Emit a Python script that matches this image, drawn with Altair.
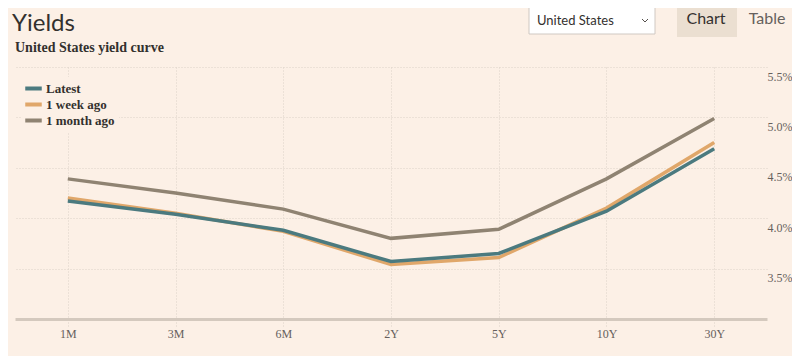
import altair as alt
import pandas as pd

tenors = ["1M", "3M", "6M", "2Y", "5Y", "10Y", "30Y"]
latest = [4.17, 4.04, 3.88, 3.57, 3.65, 4.07, 4.69]
week_ago = [4.20, 4.05, 3.87, 3.54, 3.61, 4.10, 4.75]
month_ago = [4.39, 4.25, 4.09, 3.80, 3.89, 4.39, 4.99]
series_names = ["Latest", "1 week ago", "1 month ago"]
series_colors = ["#4b7a7f", "#e0a76a", "#8f8372"]
y_ticks = [3.5, 4.0, 4.5, 5.0, 5.5]

BG = "#fcf0e6"
GRID = "#ddd3c9"
SERIF = "Liberation Serif"
SANS = "Lato"

rows = []
# draw order: month, week, latest (latest on top)
for name, vals in [("1 month ago", month_ago), ("1 week ago", week_ago), ("Latest", latest)]:
    for t, v in zip(tenors, vals):
        rows.append({"tenor": t, "yield": v, "series": name})
df = pd.DataFrame(rows)

x_enc = alt.X(
    "tenor:N",
    sort=tenors,
    scale=alt.Scale(type="point", padding=0.49),
    axis=alt.Axis(
        title=None, labelAngle=0, grid=True, gridColor=GRID, gridDash=[1, 2],
        domain=True, domainColor="#d4c9be", domainWidth=3,
        ticks=True, tickSize=8, tickColor=GRID, tickDash=[1, 2],
        labelFont=SERIF, labelFontSize=12, labelColor="#66605c", labelPadding=1,
    ),
)
y_enc = alt.Y(
    "yield:Q",
    scale=alt.Scale(domain=[3.0, 5.5], nice=False, zero=False),
    axis=alt.Axis(
        title=None, orient="right", values=y_ticks, grid=True, gridColor=GRID,
        gridDash=[1, 2], domain=False, ticks=False,
        labelExpr="format(datum.value, '.1f') + '%'",
        labelFont=SERIF, labelFontSize=12, labelColor="#66605c",
        labelPadding=0, labelAlign="left", labelBaseline="top", labelOffset=4,
    ),
)

lines = alt.Chart(df).mark_line(strokeWidth=3.5, strokeCap="butt").encode(
    x=x_enc,
    y=y_enc,
    color=alt.Color(
        "series:N",
        scale=alt.Scale(domain=series_names, range=series_colors),
        legend=alt.Legend(
            title=None, orient="none", legendX=7, legendY=10,
            symbolType="M-1.5,0L1.5,0", symbolStrokeWidth=4, symbolSize=121,
            labelFont=SERIF, labelFontSize=13, labelFontWeight="bold",
            labelColor="#33302e", rowPadding=-6, fillColor=BG, padding=4,
            labelOffset=5,
        ),
    ),
)

one = pd.DataFrame({"k": [0]})

title = alt.Chart(one).mark_text(
    text="Yields", font=SANS, fontSize=24, color="#33302e", align="left", baseline="alphabetic"
).encode(x=alt.value(-3), y=alt.value(-36))

subtitle = alt.Chart(one).mark_text(
    text="United States yield curve", font=SERIF, fontSize=14, fontWeight="bold",
    color="#33302e", align="left", baseline="alphabetic"
).encode(x=alt.value(0), y=alt.value(-15))

dropdown_box = alt.Chart(one).mark_rect(fill="white", stroke="#cfc8c2", strokeWidth=1).encode(
    x=alt.value(514), x2=alt.value(640), y=alt.value(-61), y2=alt.value(-33)
)
dropdown_text = alt.Chart(one).mark_text(
    text="United States", font=SANS, fontSize=13, color="#33302e", align="left", baseline="middle"
).encode(x=alt.value(522), y=alt.value(-46))
chev1 = alt.Chart(one).mark_rule(stroke="#55504c", strokeWidth=1).encode(
    x=alt.value(627), x2=alt.value(630), y=alt.value(-48), y2=alt.value(-45)
)
chev2 = alt.Chart(one).mark_rule(stroke="#55504c", strokeWidth=1).encode(
    x=alt.value(630), x2=alt.value(633), y=alt.value(-45), y2=alt.value(-48)
)
chart_btn = alt.Chart(one).mark_rect(fill="#ebdfd1").encode(
    x=alt.value(662), x2=alt.value(722), y=alt.value(-59), y2=alt.value(-30)
)
chart_txt = alt.Chart(one).mark_text(
    text="Chart", font=SANS, fontSize=16, color="#33302e", align="center", baseline="middle"
).encode(x=alt.value(691), y=alt.value(-48))
table_txt = alt.Chart(one).mark_text(
    text="Table", font=SANS, fontSize=16, color="#66605c", align="center", baseline="middle"
).encode(x=alt.value(752), y=alt.value(-48))

chart = alt.layer(
    lines, title, subtitle, dropdown_box, dropdown_text, chev1, chev2,
    chart_btn, chart_txt, table_txt,
).properties(
    width=752, height=252,
    padding={"left": 7, "top": 59, "right": 25, "bottom": 37},
    autosize=alt.AutoSizeParams(type="none"),
    background=BG,
).configure_view(stroke=None)

chart.save("out.html", embed_options={"renderer": "svg", "actions": False})
